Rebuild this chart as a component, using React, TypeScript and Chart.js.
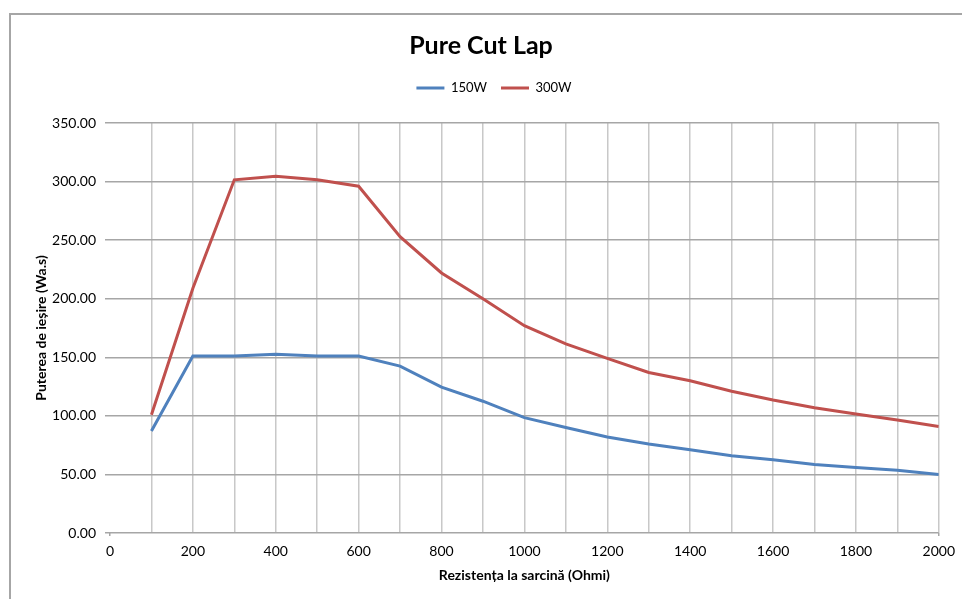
import React, { useEffect, useRef } from "react";
import { Chart, registerables } from "chart.js";

Chart.register(...registerables);

// Load resistance (Ohm) and measured output for both power settings
const loadOhms = [100, 200, 300, 400, 500, 600, 700, 800, 900, 1000, 1100, 1200, 1300, 1400, 1500, 1600, 1700, 1800, 1900, 2000];
const out150W = [87, 151, 151, 152.5, 151, 151, 142.5, 124.5, 112.5, 98.5, 90, 82, 76, 71, 66, 62.5, 58.5, 56, 53.5, 50];
const out300W = [101, 209, 301.5, 304.5, 301.5, 296, 253, 222, 200, 177, 161.5, 149, 137, 130, 121, 113.5, 107, 101.5, 96.5, 91];
const seriesLabels = ["150W", "300W"];

const FONT = "Lato, 'Open Sans', sans-serif";

// Outer chart frame
const framePlugin = {
  id: "frame",
  beforeDraw(chart: any) {
    const { ctx } = chart;
    ctx.save();
    ctx.strokeStyle = "#A6A6A6";
    ctx.lineWidth = 2;
    ctx.strokeRect(10, 14, 2000, 2000);
    ctx.restore();
  },
};

// Extra space between the legend row and the plot area, and a small rightward nudge of the legend row
const legendGapPlugin = {
  id: "legendGap",
  beforeLayout(chart: any) {
    const lg = chart.legend;
    if (lg && !lg.__gap) {
      lg.__gap = true;
      const baseFit = lg.fit;
      lg.fit = function () {
        baseFit.call(this);
        this.height += 18.5;
      };
    }
  },
  afterLayout(chart: any) {
    const lg = chart.legend;
    if (lg) {
      lg.left += 13;
      lg.right += 13;
    }
  },
};

export default function App() {
  const canvasRef = useRef<HTMLCanvasElement | null>(null);

  useEffect(() => {
    if (!canvasRef.current) return;
    const toPoints = (ys: number[]) => loadOhms.map((x, i) => ({ x, y: ys[i] }));
    const chart = new Chart(canvasRef.current, {
      type: "line",
      data: {
        datasets: [
          {
            label: seriesLabels[0],
            data: toPoints(out150W),
            borderColor: "#4F81BD",
            backgroundColor: "#4F81BD",
            borderWidth: 3,
            pointRadius: 0,
            tension: 0,
          },
          {
            label: seriesLabels[1],
            data: toPoints(out300W),
            borderColor: "#C0504D",
            backgroundColor: "#C0504D",
            borderWidth: 3,
            pointRadius: 0,
            tension: 0,
          },
        ],
      },
      plugins: [framePlugin, legendGapPlugin],
      options: {
        responsive: false,
        animation: false,
        layout: { padding: 0 },
        plugins: {
          title: {
            display: true,
            text: "Pure Cut Lap",
            color: "#000",
            font: { family: FONT, size: 25, weight: "bold" },
            padding: { top: 30.5, bottom: 7 },
          },
          legend: {
            display: true,
            position: "top",
            labels: {
              color: "#000",
              font: { family: FONT, size: 13 },
              usePointStyle: true,
              pointStyle: "line",
              pointStyleWidth: 28,
              padding: 14,
            },
          },
          tooltip: { enabled: false },
        },
        scales: {
          x: {
            type: "linear",
            min: 0,
            max: 2000,
            afterFit(scale: any) {
              scale.height = 66;
            },
            border: { display: false },
            grid: {
              color: (c: any) => (c.tick && c.tick.value === 0 ? "rgba(0,0,0,0)" : "#C8C8C8"),
              tickColor: (c: any) =>
                c.tick && (c.tick.value === 0 || c.tick.value === 2000) ? "#A6A6A6" : "rgba(0,0,0,0)",
              lineWidth: 1.5,
              tickLength: 3,
            },
            ticks: {
              stepSize: 100,
              autoSkip: false,
              maxRotation: 0,
              padding: 7,
              color: "#000",
              font: { family: FONT, size: 14 },
              callback: (v: any) => (Number(v) % 200 === 0 ? String(v) : ""),
            },
            title: {
              display: true,
              text: "Rezistența la sarcină (Ohmi)",
              color: "#000",
              font: { family: FONT, size: 14, weight: "bold" },
              padding: { top: 4, bottom: 15.5 },
            },
          },
          y: {
            min: 0,
            max: 350,
            afterFit(scale: any) {
              scale.width = 110;
            },
            border: { display: false },
            grid: {
              color: "#A6A6A6",
              lineWidth: 1.5,
              tickLength: 5,
            },
            ticks: {
              stepSize: 50,
              padding: 9,
              color: "#000",
              font: { family: FONT, size: 14 },
              callback: (v: any) => Number(v).toFixed(2),
            },
            title: {
              display: true,
              text: "Puterea de ieșire (Wa.s)",
              color: "#000",
              font: { family: FONT, size: 14, weight: "bold" },
              padding: { top: 33, bottom: 4 },
            },
          },
        },
      },
    } as any);
    return () => chart.destroy();
  }, []);

  return (
    <div style={{ position: "absolute", left: 0, top: 0, width: 962, height: 599, overflow: "hidden", background: "#fff" }}>
      <canvas ref={canvasRef} width={962} height={599} style={{ display: "block" }} />
    </div>
  );
}
